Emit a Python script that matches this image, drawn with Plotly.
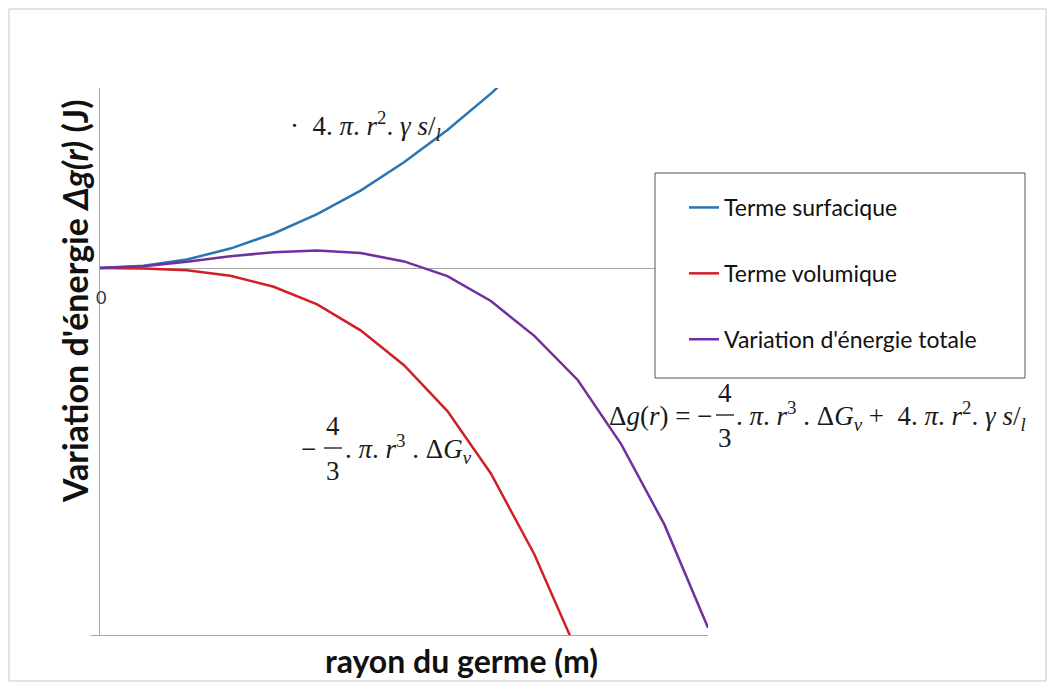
import plotly.graph_objects as go

# rayon du germe (unités arbitraires)
rayon = [0, 1, 2, 3, 4, 5, 6, 7, 8, 9, 10, 11, 12, 13, 14]

# valeurs (unités arbitraires)
terme_surfacique = [0, 0.6, 2.3, 5.3, 9.4, 14.7, 21.1, 28.8, 37.6, 47.5, 58.7, 71.0, 84.5, 99.2, 115.1]
terme_volumique = [0, -0.1, -0.6, -2.1, -5.1, -9.9, -17.0, -26.5, -39.0, -56.0, -78.0, -105.0, -136.3, -173.3, -216.5]
energie_totale = [0, 0.5, 1.7, 3.2, 4.3, 4.8, 4.1, 1.8, -2.2, -9.0, -18.5, -30.5, -48.0, -70.0, -98.0]

noms = ["Terme surfacique", "Terme volumique", "Variation d'énergie totale"]
couleurs = ["#2a75b3", "#d01f25", "#7030a0"]

# page coords of the plot area: x 100..708, y 88..635 (page body has an 8px margin)
OFF = 8
L, R, T, B = 100, 708, 88, 635
W, H = 1055 - 2 * OFF, 690 - 2 * OFF


def px(x):
    return (x - L) / (R - L)


def py(y):
    return (B - y) / (B - T)


fig = go.Figure()
for i, serie in enumerate([terme_surfacique, terme_volumique, energie_totale]):
    fig.add_trace(go.Scatter(
        x=rayon, y=serie, mode="lines", name=noms[i],
        line=dict(color=couleurs[i], width=2.5),
        legendgroup=str(i),
    ))

math_font = dict(family="Liberation Serif", size=27, color="#1a1a1a")
surf = "4. <i>π</i>. <i>r</i><sup>2</sup>. <i>γ s</i>/<sub><i>l</i></sub>"
vol = ". <i>π</i>. <i>r</i><sup>3</sup> . Δ<i>G<sub>v</sub></i>"

annotations = [
    # axis titles
    dict(x=px(461), y=py(660), text="<b>rayon du germe (m)</b>",
         font=dict(family="Lato", size=32, color="#111")),
    dict(x=px(74), y=py(301), text="<b>Variation d'énergie <i>Δg(r)</i> (J)</b>",
         textangle=-90, font=dict(family="Lato", size=34, color="#111")),
    dict(x=px(101), y=py(297), text="0",
         font=dict(family="Lato", size=18, color="#333")),
    # surface term
    dict(x=px(288), y=py(126), xanchor="left", text="·  " + surf, font=math_font),
    # volume term
    dict(x=px(318), y=py(449), xanchor="right", text="−", font=math_font),
    dict(x=px(333), y=py(426), text="4", font=math_font),
    dict(x=px(333), y=py(471), text="3", font=math_font),
    dict(x=px(343), y=py(449), xanchor="left", text=vol, font=math_font),
    # total
    dict(x=px(714), y=py(416), xanchor="right", text="Δ<i>g</i>(<i>r</i>) = −", font=math_font),
    dict(x=px(725), y=py(393), text="4", font=math_font),
    dict(x=px(725), y=py(438), text="3", font=math_font),
    dict(x=px(734), y=py(416), xanchor="left", text=vol + " +  " + surf, font=math_font),
]
for a in annotations:
    a.setdefault("xref", "paper")
    a.setdefault("yref", "paper")
    a.setdefault("showarrow", False)
    a.setdefault("xanchor", "center")
    a.setdefault("yanchor", "middle")

shapes = [
    # legend box
    dict(type="rect", xref="paper", yref="paper", x0=px(655), x1=px(1025),
         y0=py(378), y1=py(173), line=dict(color="#555", width=1),
         fillcolor="white", layer="above"),
    # fraction bars
    dict(type="line", xref="paper", yref="paper", x0=px(324), x1=px(342),
         y0=py(448), y1=py(448), line=dict(color="#111", width=1.3)),
    dict(type="line", xref="paper", yref="paper", x0=px(716), x1=px(734),
         y0=py(415), y1=py(415), line=dict(color="#111", width=1.3)),
    # outer border
    dict(type="rect", xref="paper", yref="paper", x0=px(9), x1=px(1046),
         y0=py(681), y1=py(9), line=dict(color="#c8c8c8", width=1), layer="below"),
]

fig.update_layout(
    width=W, height=H, autosize=False,
    margin=dict(l=L - OFF, r=W - (R - OFF), t=T - OFF, b=H - (B - OFF)),
    paper_bgcolor="white", plot_bgcolor="white",
    font=dict(family="Lato", size=23, color="#111"),
    showlegend=True,
    legend=dict(x=px(684), y=py(186), xanchor="left", yanchor="top",
                bgcolor="rgba(0,0,0,0)", borderwidth=0,
                traceorder="grouped", tracegroupgap=33,
                font=dict(family="Lato", size=23, color="#111")),
    annotations=annotations,
    shapes=shapes,
)
fig.update_xaxes(range=[0, 14], showline=True, linecolor="#a6a6a6", linewidth=1,
                 showgrid=False, zeroline=False, showticklabels=False, ticks="")
fig.update_yaxes(range=[-100, 49.05], showline=True, linecolor="#a6a6a6", linewidth=1,
                 showgrid=False, zeroline=True, zerolinecolor="#a6a6a6", zerolinewidth=1,
                 showticklabels=False, tickvals=[-100], ticks="outside", ticklen=8,
                 tickcolor="#a6a6a6")

fig.write_html("out.html")
